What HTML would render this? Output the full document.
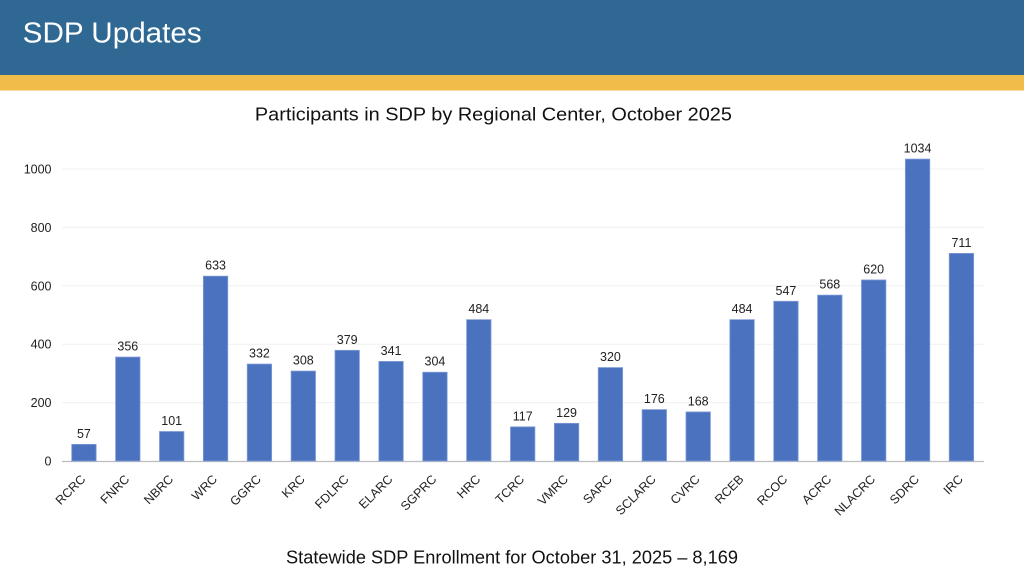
<!DOCTYPE html>
<html><head><meta charset="utf-8"><style>
html,body{margin:0;padding:0;background:#fff;}
svg{display:block;font-family:"Liberation Sans",Arial,sans-serif;}
</style></head><body>
<svg width="1024" height="577" viewBox="0 0 1024 577" xmlns="http://www.w3.org/2000/svg">
<rect x="0" y="0" width="1024" height="75" fill="#2E6893"/>
<rect x="0" y="75" width="1024" height="15.5" fill="#F2BC4B"/>
<text x="22.7" y="42.7" font-size="29" fill="#fff" textLength="179" lengthAdjust="spacingAndGlyphs">SDP Updates</text>
<text x="493.4" y="120.6" font-size="18" fill="#111" text-anchor="middle" textLength="477" lengthAdjust="spacingAndGlyphs">Participants in SDP by Regional Center, October 2025</text>
<g stroke="#f0f0f0" stroke-width="1">
<line x1="62" x2="984" y1="402.6" y2="402.6"/>
<line x1="62" x2="984" y1="344.2" y2="344.2"/>
<line x1="62" x2="984" y1="285.8" y2="285.8"/>
<line x1="62" x2="984" y1="227.4" y2="227.4"/>
<line x1="62" x2="984" y1="169" y2="169"/>
</g>
<g font-size="12.5" fill="#222" text-anchor="end">
<text x="51.5" y="465.5">0</text>
<text x="51.5" y="407.1">200</text>
<text x="51.5" y="348.7">400</text>
<text x="51.5" y="290.3">600</text>
<text x="51.5" y="231.9">800</text>
<text x="51.5" y="173.5">1000</text>
</g>
<g id="bars" fill="#4A72BF" stroke="#7F9BD6" stroke-width="0.8"></g>
<g id="vals" font-size="12.5" fill="#222" text-anchor="middle"></g>
<g id="labs" font-size="12.5" fill="#222" text-anchor="end"></g>
<line x1="62" x2="984" y1="461.5" y2="461.5" stroke="#bdbdbd" stroke-width="1.2"/>
<text x="512" y="563.5" font-size="18.5" fill="#111" text-anchor="middle" textLength="452" lengthAdjust="spacingAndGlyphs">Statewide SDP Enrollment for October 31, 2025 – 8,169</text>
<g fill="#4A72BF" stroke="#7F9BD6" stroke-width="0.8">
<rect x="71.74" y="444.36" width="24.4" height="16.64"/>
<rect x="115.61" y="357.05" width="24.4" height="103.95"/>
<rect x="159.49" y="431.51" width="24.4" height="29.49"/>
<rect x="203.36" y="276.16" width="24.4" height="184.84"/>
<rect x="247.24" y="364.06" width="24.4" height="96.94"/>
<rect x="291.11" y="371.06" width="24.4" height="89.94"/>
<rect x="334.99" y="350.33" width="24.4" height="110.67"/>
<rect x="378.86" y="361.43" width="24.4" height="99.57"/>
<rect x="422.74" y="372.23" width="24.4" height="88.77"/>
<rect x="466.61" y="319.67" width="24.4" height="141.33"/>
<rect x="510.49" y="426.84" width="24.4" height="34.16"/>
<rect x="554.36" y="423.33" width="24.4" height="37.67"/>
<rect x="598.24" y="367.56" width="24.4" height="93.44"/>
<rect x="642.11" y="409.61" width="24.4" height="51.39"/>
<rect x="685.99" y="411.94" width="24.4" height="49.06"/>
<rect x="729.86" y="319.67" width="24.4" height="141.33"/>
<rect x="773.74" y="301.28" width="24.4" height="159.72"/>
<rect x="817.61" y="295.14" width="24.4" height="165.86"/>
<rect x="861.49" y="279.96" width="24.4" height="181.04"/>
<rect x="905.36" y="159.07" width="24.4" height="301.93"/>
<rect x="949.24" y="253.39" width="24.4" height="207.61"/>
</g>
<g font-size="12.5" fill="#222" text-anchor="middle">
<text x="83.94" y="437.86">57</text>
<text x="127.81" y="350.55">356</text>
<text x="171.69" y="425.01">101</text>
<text x="215.56" y="269.66">633</text>
<text x="259.44" y="357.56">332</text>
<text x="303.31" y="364.56">308</text>
<text x="347.19" y="343.83">379</text>
<text x="391.06" y="354.93">341</text>
<text x="434.94" y="365.73">304</text>
<text x="478.81" y="313.17">484</text>
<text x="522.69" y="420.34">117</text>
<text x="566.56" y="416.83">129</text>
<text x="610.44" y="361.06">320</text>
<text x="654.31" y="403.11">176</text>
<text x="698.19" y="405.44">168</text>
<text x="742.06" y="313.17">484</text>
<text x="785.94" y="294.78">547</text>
<text x="829.81" y="288.64">568</text>
<text x="873.69" y="273.46">620</text>
<text x="917.56" y="152.57">1034</text>
<text x="961.44" y="246.89">711</text>
</g>
<g font-size="12.5" fill="#222" text-anchor="end">
<text transform="translate(86.2,480) rotate(-45)">RCRC</text>
<text transform="translate(130.1,480) rotate(-45)">FNRC</text>
<text transform="translate(174,480) rotate(-45)">NBRC</text>
<text transform="translate(217.9,480) rotate(-45)">WRC</text>
<text transform="translate(261.7,480) rotate(-45)">GGRC</text>
<text transform="translate(305.6,480) rotate(-45)">KRC</text>
<text transform="translate(349.5,480) rotate(-45)">FDLRC</text>
<text transform="translate(393.4,480) rotate(-45)">ELARC</text>
<text transform="translate(437.2,480) rotate(-45)">SGPRC</text>
<text transform="translate(481.1,480) rotate(-45)">HRC</text>
<text transform="translate(525,480) rotate(-45)">TCRC</text>
<text transform="translate(568.9,480) rotate(-45)">VMRC</text>
<text transform="translate(612.7,480) rotate(-45)">SARC</text>
<text transform="translate(656.6,480) rotate(-45)">SCLARC</text>
<text transform="translate(700.5,480) rotate(-45)">CVRC</text>
<text transform="translate(744.4,480) rotate(-45)">RCEB</text>
<text transform="translate(788.2,480) rotate(-45)">RCOC</text>
<text transform="translate(832.1,480) rotate(-45)">ACRC</text>
<text transform="translate(876,480) rotate(-45)">NLACRC</text>
<text transform="translate(919.9,480) rotate(-45)">SDRC</text>
<text transform="translate(963.7,480) rotate(-45)">IRC</text>
</g>
</svg>
</body></html>
